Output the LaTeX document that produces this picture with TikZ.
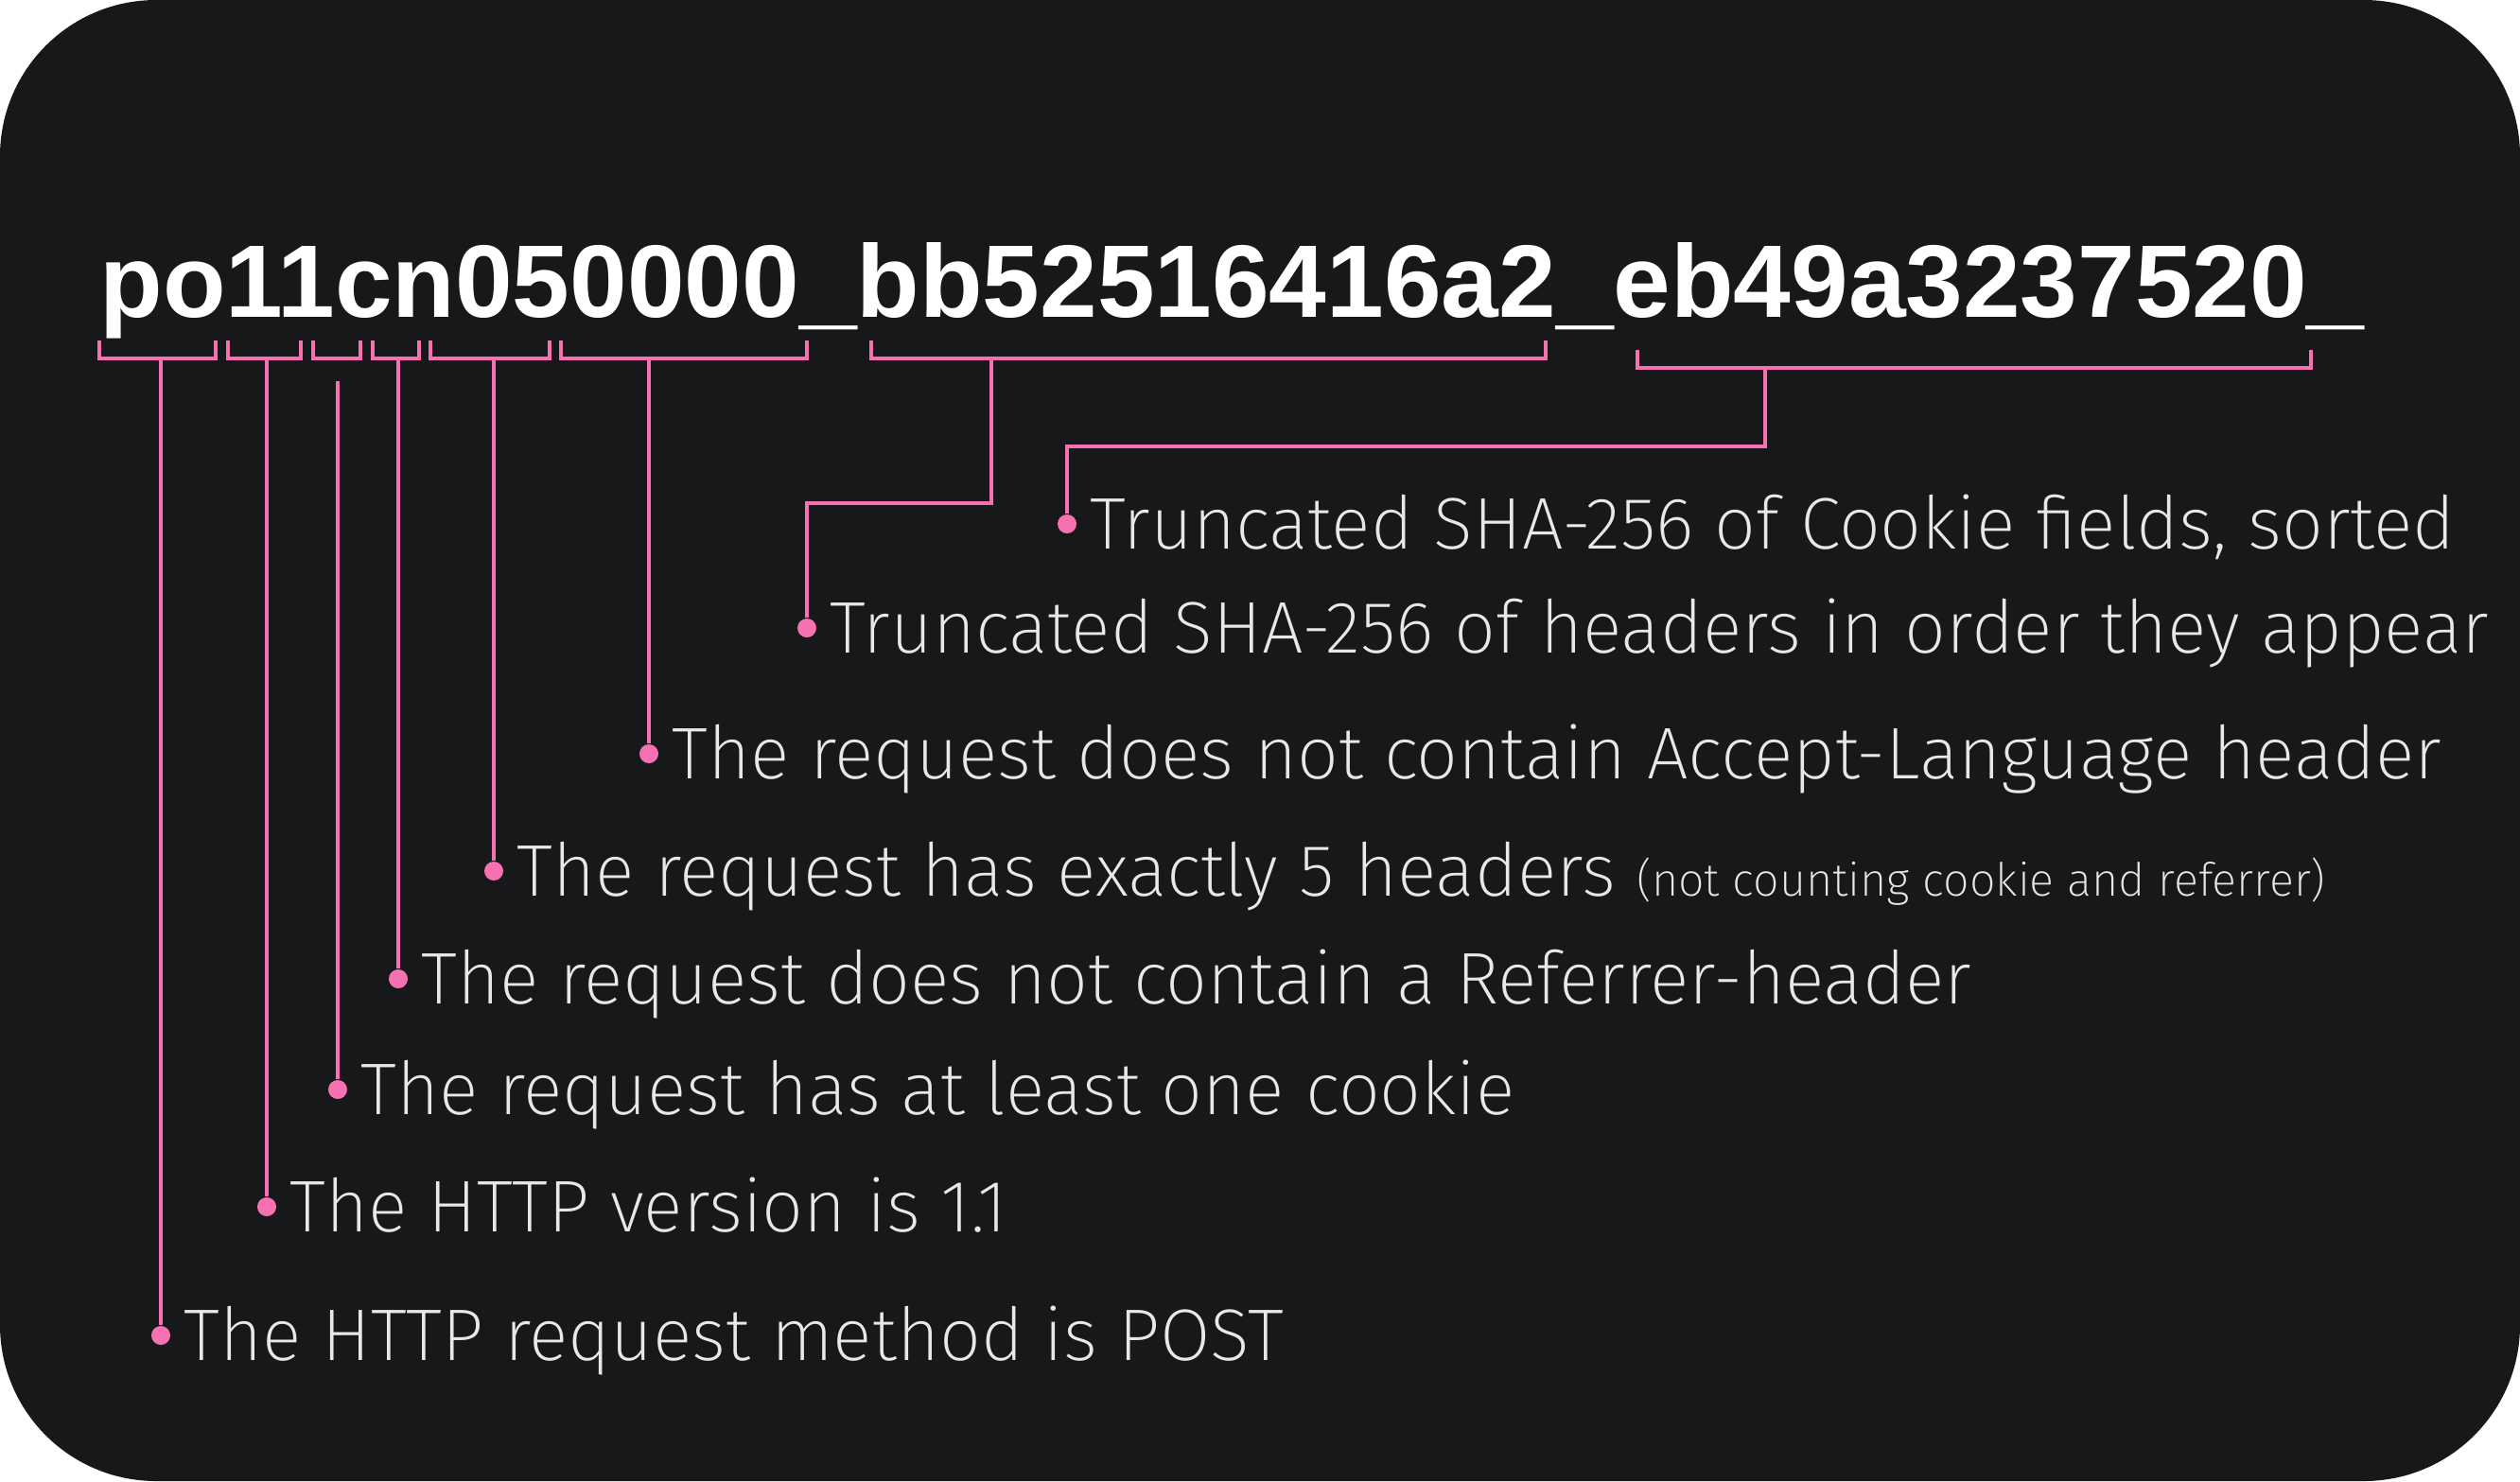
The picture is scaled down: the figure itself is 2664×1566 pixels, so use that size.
\documentclass[tikz,border=0pt]{standalone}
\usepackage{fontspec}
\setmainfont{Fira Sans}[UprightFont=* ExtraLight]
\newfontfamily\codefont{Liberation Sans}
\usetikzlibrary{positioning}
\definecolor{bg}{RGB}{23,24,26}
\definecolor{hot}{RGB}{247,112,178}
\definecolor{ink}{RGB}{232,232,234}

\begin{document}
\begin{tikzpicture}[x=0.01cm, y=-0.01cm]
  \tikzstyle{dot}=[circle, fill = hot, inner sep = 0pt, minimum size = 2mm]
  \tikzstyle{lead}=[draw = hot, line width = 1pt]
  \tikzstyle{note}=[text = ink, inner sep = 0pt, text height = 5.33mm, text depth = 0pt, node distance = 1.3mm, font = \fontsize{22}{26}\selectfont]

  \useasboundingbox (0,0) rectangle (2664,1566);
  \fill[white] (0,0) rectangle (2664,1566);
  \fill[bg, rounded corners = 1.65cm] (0,0) rectangle (2664,1566);

  \node[text = white, inner sep = 0pt, anchor = base west, font = \codefont\bfseries\fontsize{31}{36}\selectfont] (code) at (105,335) {po11cn050000\_bb52516416a2\_eb49a3237520\_};

  \draw[lead] (105,360) |- (228,379) -- (228,360);
  \draw[lead] (241,360) |- (318,379) -- (318,360);
  \draw[lead] (331,360) |- (381,379) -- (381,360);
  \draw[lead] (394,360) |- (443,379) -- (443,360);
  \draw[lead] (455,360) |- (581,379) -- (581,360);
  \draw[lead] (593,360) |- (853,379) -- (853,360);
  \draw[lead] (921,360) |- (1634,379) -- (1634,360);
  \draw[lead] (1731,370) |- (2443,389) -- (2443,370);

  \coordinate (b1) at (170,379);
  \coordinate (b2) at (282,379);
  \coordinate (b3) at (357,403);
  \coordinate (b4) at (421,379);
  \coordinate (b5) at (522,379);
  \coordinate (b6) at (686,379);
  \coordinate (b7) at (1048,379);
  \coordinate (b8) at (1866,389);

  \node[dot] (d1) at (170,1412) {};
  \node[dot] (d2) at (282,1276) {};
  \node[dot] (d3) at (357,1152) {};
  \node[dot] (d4) at (421,1035) {};
  \node[dot] (d5) at (522,921) {};
  \node[dot] (d6) at (686,797) {};
  \node[dot] (d7) at (853,664) {};
  \node[dot] (d8) at (1128,554) {};

  \path (b1) edge [lead] (d1)
        (b2) edge [lead] (d2)
        (b3) edge [lead] (d3)
        (b4) edge [lead] (d4)
        (b5) edge [lead] (d5)
        (b6) edge [lead] (d6);
  \draw[lead] (b7) -- ++(0,153) -| (d7);
  \draw[lead] (b8) -- ++(0,83) -| (d8);

  \node[note] (t1) [right = of d1] {The HTTP request method is POST};
  \node[note] (t2) [right = of d2] {The HTTP version is 1.1};
  \node[note] (t3) [right = of d3] {The request has at least one cookie};
  \node[note] (t4) [right = of d4] {The request does not contain a Referrer-header};
  \node[note] (t5) [right = of d5] {The request has exactly 5 headers {\fontsize{13.8}{17}\selectfont(not counting cookie and referrer)}};
  \node[note] (t6) [right = of d6] {The request does not contain Accept-Language header};
  \node[note] (t7) [right = of d7] {Truncated SHA-256 of headers in order they appear};
  \node[note] (t8) [right = of d8] {Truncated SHA-256 of Cookie fields, sorted};

\end{tikzpicture}
\end{document}
